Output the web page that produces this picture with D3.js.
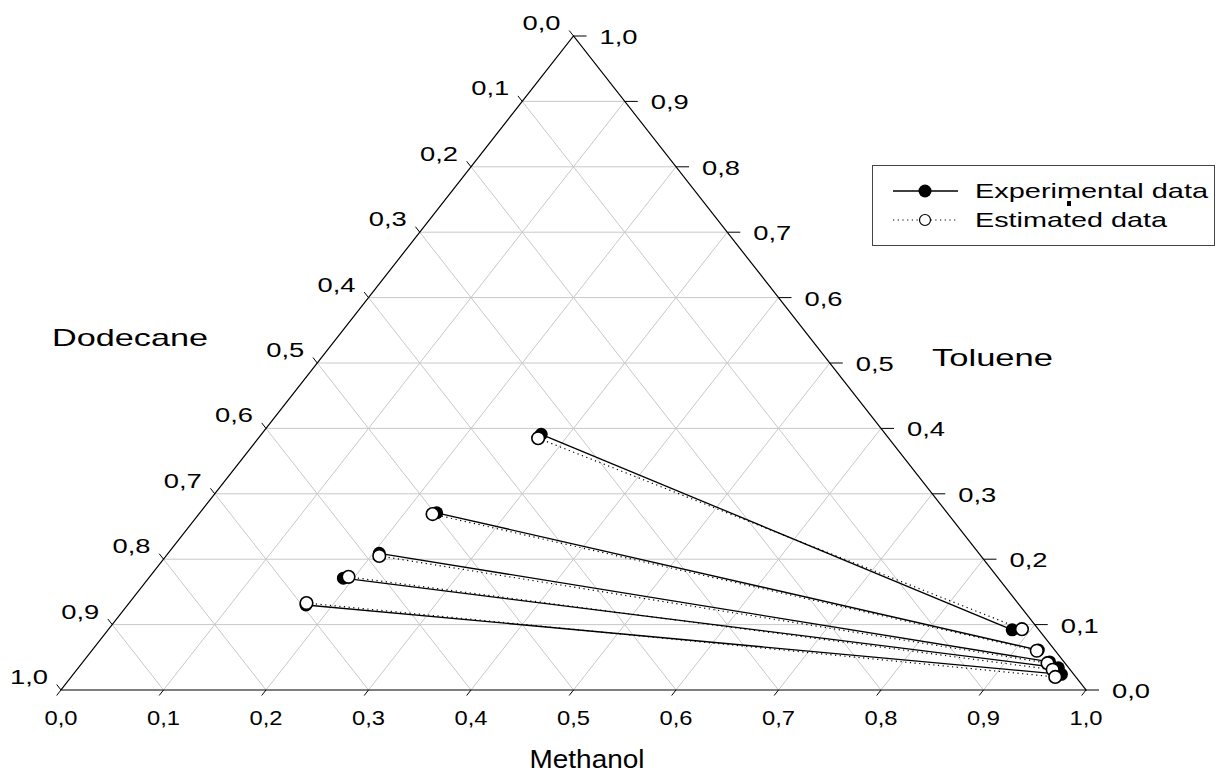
<!DOCTYPE html>
<html>
<head>
<meta charset="utf-8">
<script src="https://cdn.jsdelivr.net/npm/d3@7"></script>
<style>
  body { margin: 0; background: #fff; }
  text { font-family: "Liberation Sans", Arial, sans-serif; fill: #000; }
</style>
</head>
<body>
<svg id="chart"></svg>
<script>
// ---- Data (mass fractions: methanol, toluene; dodecane = 1 - m - t) ----
const ticks = d3.range(0, 11).map(i => i / 10);
const tickLabels = ticks.map(v => v.toFixed(1).replace('.', ','));

// experimental tie lines: dodecane-rich phase (left) and methanol-rich phase (right)
const expLeftMethanol  = [0.273, 0.231, 0.206, 0.190, 0.174];
const expLeftToluene   = [0.391, 0.271, 0.209, 0.171, 0.130];
const expRightMethanol = [0.882, 0.923, 0.943, 0.956, 0.964];
const expRightToluene  = [0.092, 0.061, 0.043, 0.034, 0.024];

// estimated tie lines
const estLeftMethanol  = [0.273, 0.228, 0.208, 0.194, 0.173];
const estLeftToluene   = [0.385, 0.269, 0.205, 0.173, 0.133];
const estRightMethanol = [0.891, 0.922, 0.942, 0.952, 0.960];
const estRightToluene  = [0.093, 0.060, 0.041, 0.031, 0.020];

const width = 1223, height = 778;
const svg = d3.select('#chart').attr('width', width).attr('height', height);

// x runs along the base, y along the toluene height
const x = d3.scaleLinear().domain([0, 1]).range([61, 1086]);
const y = d3.scaleLinear().domain([0, 1]).range([690, 36]);
const P = (m, t) => [x(m + t / 2), y(t)];

// the original picture is stretched sideways, so text gets fixed widths
function stretched(g, px, py, str, size, w, anchor) {
  return g.append('text').attr('x', px).attr('y', py).attr('font-size', size)
    .attr('text-anchor', anchor || 'start')
    .attr('textLength', w).attr('lengthAdjust', 'spacingAndGlyphs').text(str);
}

// ---- Grid ----
const grid = svg.append('g').attr('stroke', '#c8c8c8').attr('stroke-width', 1).attr('fill', 'none');
ticks.slice(1, 10).forEach(v => {
  // constant toluene (horizontal)
  grid.append('line').attr('x1', P(0, v)[0]).attr('y1', P(0, v)[1]).attr('x2', P(1 - v, v)[0]).attr('y2', P(1 - v, v)[1]);
  // constant methanol
  grid.append('line').attr('x1', P(v, 0)[0]).attr('y1', P(v, 0)[1]).attr('x2', P(v, 1 - v)[0]).attr('y2', P(v, 1 - v)[1]);
  // constant dodecane
  grid.append('line').attr('x1', P(1 - v, 0)[0]).attr('y1', P(1 - v, 0)[1]).attr('x2', P(0, 1 - v)[0]).attr('y2', P(0, 1 - v)[1]);
});

// ---- Frame ----
svg.append('path')
  .attr('d', d3.line()([P(0, 0), P(1, 0), P(0, 1)]) + 'Z')
  .attr('fill', 'none').attr('stroke', '#000').attr('stroke-width', 1.2);

// ---- Ticks & labels ----
const tk = svg.append('g').attr('stroke', '#000').attr('stroke-width', 1);
const lab = svg.append('g');
const dxL = x(0.5) - x(0), dyL = y(0) - y(1); // left edge direction
const len = Math.hypot(dxL, dyL);
ticks.forEach((v, i) => {
  // bottom (methanol): ticks point down-left
  const b = P(v, 0);
  tk.append('line').attr('x1', b[0]).attr('y1', b[1])
    .attr('x2', b[0] - 7 * dxL / len).attr('y2', b[1] + 7 * dyL / len);
  stretched(lab, b[0], 725, tickLabels[i], 21, 33, 'middle');

  // left (dodecane): point with dodecane = v on left edge
  const l = P(0, 1 - v);
  tk.append('line').attr('x1', l[0]).attr('y1', l[1])
    .attr('x2', l[0] - 7 * dxL / len).attr('y2', l[1] - 7 * dyL / len);
  stretched(lab, l[0] - 32, l[1] - 6, tickLabels[i], 20, 38, 'middle');

  // right (toluene)
  const r = P(1 - v, v);
  tk.append('line').attr('x1', r[0]).attr('y1', r[1]).attr('x2', r[0] + 13).attr('y2', r[1]);
  stretched(lab, r[0] + 26, r[1] + 8, tickLabels[i], 20, 38);
});

// ---- Axis titles ----
const titles = svg.append('g');
stretched(titles, 52, 346, 'Dodecane', 24, 156);
stretched(titles, 932, 366, 'Toluene', 24, 121);
stretched(titles, 587, 768, 'Methanol', 25, 115, 'middle');

// ---- Tie lines ----
function series(lm, lt, rm, rt) {
  return lm.map((m, i) => ({ a: P(m, lt[i]), b: P(rm[i], rt[i]) }));
}
const exp = series(expLeftMethanol, expLeftToluene, expRightMethanol, expRightToluene);
const est = series(estLeftMethanol, estLeftToluene, estRightMethanol, estRightToluene);

const gExp = svg.append('g');
gExp.selectAll('line').data(exp).join('line')
  .attr('x1', d => d.a[0]).attr('y1', d => d.a[1]).attr('x2', d => d.b[0]).attr('y2', d => d.b[1])
  .attr('stroke', '#000').attr('stroke-width', 1.3);

const gEst = svg.append('g');
gEst.selectAll('line').data(est).join('line')
  .attr('x1', d => d.a[0]).attr('y1', d => d.a[1]).attr('x2', d => d.b[0]).attr('y2', d => d.b[1])
  .attr('stroke', '#000').attr('stroke-width', 1.2).attr('stroke-dasharray', '1.2,3.5');

const expPts = exp.flatMap(d => [d.a, d.b]);
const estPts = est.flatMap(d => [d.a, d.b]);
svg.append('g').selectAll('circle').data(expPts).join('circle')
  .attr('cx', d => d[0]).attr('cy', d => d[1]).attr('r', 6.5).attr('fill', '#000');
svg.append('g').selectAll('circle').data(estPts).join('circle')
  .attr('cx', d => d[0]).attr('cy', d => d[1]).attr('r', 6.3)
  .attr('fill', '#fff').attr('stroke', '#000').attr('stroke-width', 1.6);

// ---- Legend ----
const lg = svg.append('g');
lg.append('rect').attr('x', 872.5).attr('y', 165.5).attr('width', 342).attr('height', 80)
  .attr('fill', '#fff').attr('stroke', '#444').attr('stroke-width', 1);
lg.append('line').attr('x1', 893).attr('x2', 958).attr('y1', 191).attr('y2', 191).attr('stroke', '#000').attr('stroke-width', 1.3);
lg.append('circle').attr('cx', 925).attr('cy', 191).attr('r', 6.5).attr('fill', '#000');
lg.append('line').attr('x1', 893).attr('x2', 958).attr('y1', 220).attr('y2', 220)
  .attr('stroke', '#000').attr('stroke-width', 1.2).attr('stroke-dasharray', '1.2,3.5');
lg.append('circle').attr('cx', 925).attr('cy', 220).attr('r', 5.5).attr('fill', '#fff').attr('stroke', '#000').attr('stroke-width', 1.2);
stretched(lg, 975, 198, 'Experimental data', 21, 233);
stretched(lg, 975, 227, 'Estimated data', 21, 192);
lg.append('rect').attr('x', 1067).attr('y', 201).attr('width', 4).attr('height', 5).attr('fill', '#000');
</script>
</body>
</html>
